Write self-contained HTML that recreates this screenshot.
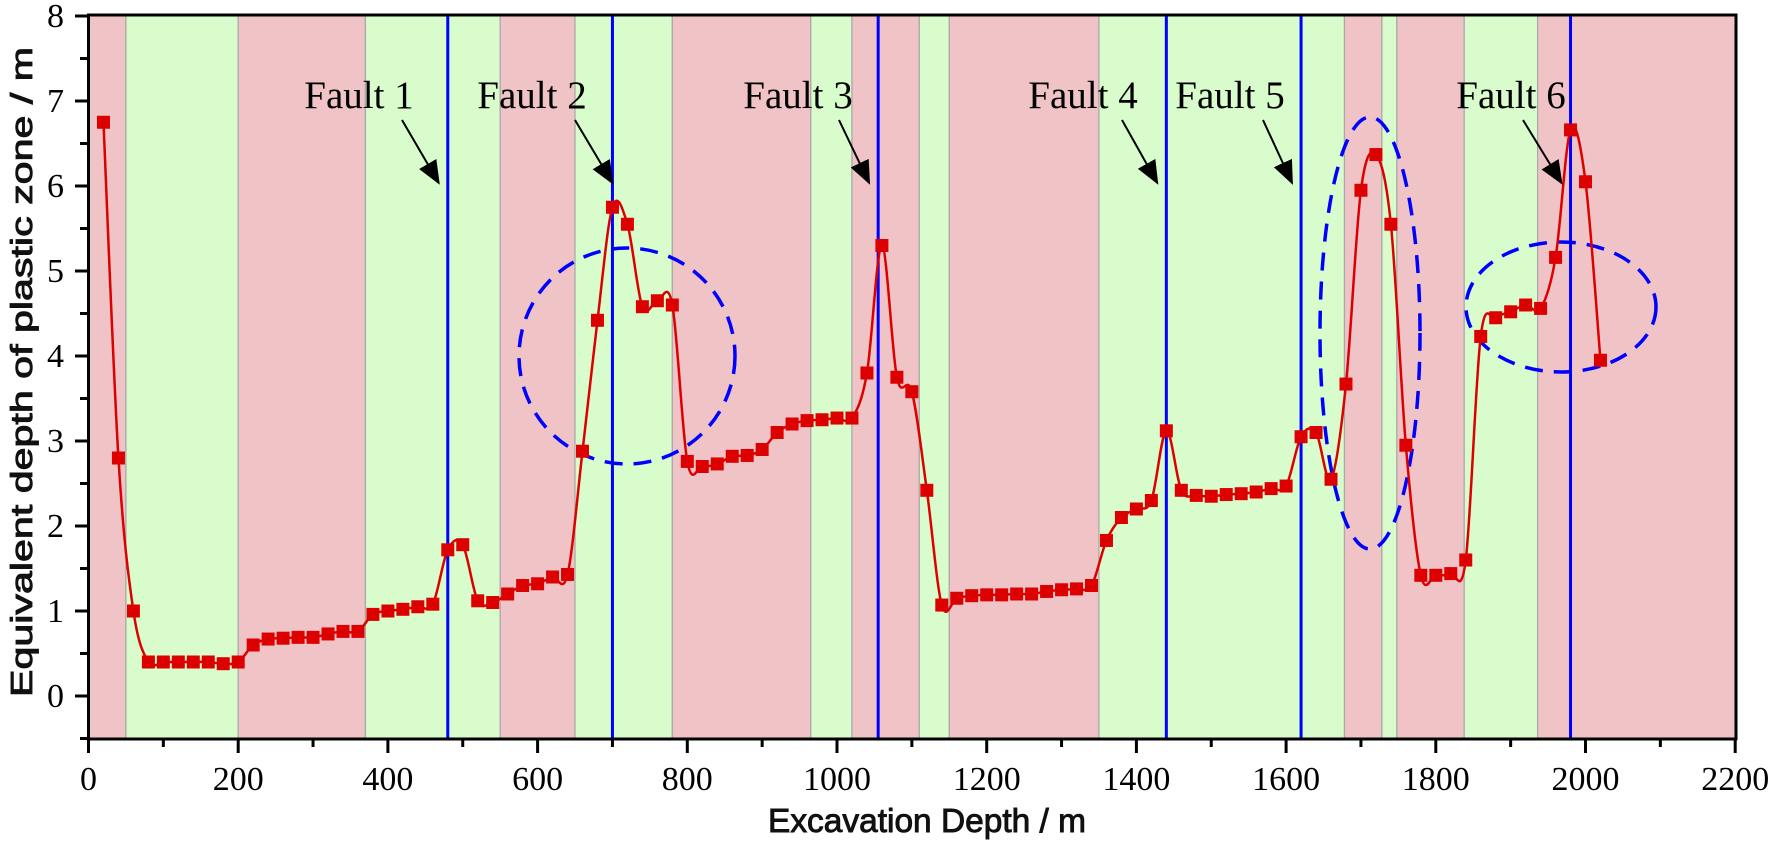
<!DOCTYPE html>
<html><head><meta charset="utf-8">
<style>html,body{margin:0;padding:0;background:#fff;}svg{display:block;}</style>
</head><body>
<svg id="c" width="1772" height="844" xmlns="http://www.w3.org/2000/svg">
<defs>
<marker id="ah2" markerWidth="24" markerHeight="20" refX="22" refY="10" orient="auto" markerUnits="userSpaceOnUse"><path d="M0,0 L24,10 L0,20 z" fill="#000"/></marker></defs>
<g id="bands"></g><g id="faults"></g><g id="ell"></g><g id="series"></g><g id="ann"></g><g id="axes"></g>
</svg>
<script>
(function(){
const NS="http://www.w3.org/2000/svg";
const X=m=>88.5+0.7485*m, Y=v=>696-85*v;
function el(p,t,a,txt){const e=document.createElementNS(NS,t);for(const k in a)e.setAttribute(k,a[k]);if(txt!==undefined)e.textContent=txt;document.getElementById(p).appendChild(e);return e;}
const TOPY=15,BOTY=738.5;
const bands=[[0,50,'r'],[50,200,'g'],[200,370,'r'],[370,550,'g'],[550,650,'r'],[650,780,'g'],[780,965,'r'],[965,1020,'g'],[1020,1110,'r'],[1110,1150,'g'],[1150,1350,'r'],[1350,1678,'g'],[1678,1728,'r'],[1728,1748,'g'],[1748,1838,'r'],[1838,1936,'g'],[1936,2200,'r']];
bands.forEach(b=>{el('bands','rect',{x:X(b[0]),y:TOPY,width:X(b[1])-X(b[0]),height:BOTY-TOPY,fill:b[2]=='r'?'#f0c4c6':'#d8fccc',stroke:'#a8a8a8','stroke-width':1.2});});
[480,700,1055,1440,1620,1980].forEach(f=>el('faults','line',{x1:X(f),x2:X(f),y1:TOPY,y2:BOTY,stroke:'#0000ff','stroke-width':3}));
const d=[6.75,2.8,1.0,0.4,0.4,0.4,0.4,0.4,0.38,0.4,0.6,0.67,0.68,0.69,0.69,0.73,0.76,0.76,0.96,1.0,1.02,1.05,1.08,1.72,1.78,1.12,1.1,1.2,1.3,1.32,1.4,1.43,2.88,4.42,5.75,5.55,4.58,4.65,4.6,2.76,2.7,2.73,2.82,2.83,2.9,3.1,3.2,3.24,3.25,3.27,3.27,3.8,5.3,3.75,3.58,2.42,1.07,1.15,1.18,1.19,1.19,1.2,1.2,1.23,1.25,1.26,1.3,1.83,2.1,2.2,2.3,3.12,2.42,2.36,2.35,2.37,2.38,2.4,2.44,2.47,3.05,3.1,2.55,3.67,5.95,6.37,5.55,2.95,1.42,1.42,1.44,1.6,4.23,4.45,4.52,4.6,4.56,5.16,6.66,6.05,3.95];
const P=d.map((v,i)=>[X(20+20*i),Y(v)]);
let s=`M${P[0][0]},${P[0][1]}`;
for(let i=0;i<P.length-1;i++){const p0=P[Math.max(0,i-1)],p1=P[i],p2=P[i+1],p3=P[Math.min(P.length-1,i+2)];
const c1=[p1[0]+(p2[0]-p0[0])/6,p1[1]+(p2[1]-p0[1])/6],c2=[p2[0]-(p3[0]-p1[0])/6,p2[1]-(p3[1]-p1[1])/6];
s+=` C${c1[0]},${c1[1]} ${c2[0]},${c2[1]} ${p2[0]},${p2[1]}`;}
el('series','path',{d:s,fill:'none',stroke:'#dd0000','stroke-width':2.5});
P.forEach(p=>el('series','rect',{x:p[0]-6.5,y:p[1]-6.5,width:13,height:13,fill:'#dd0000'}));
[[627,356,108,108],[1370,333,50,216],[1561,307,95,65]].forEach(e=>el('ell','ellipse',{cx:e[0],cy:e[1],rx:e[2],ry:e[3],fill:'none',stroke:'#0000ff','stroke-width':3.5,'stroke-dasharray':'18 11'}));
const fl=[[1,359,402,480,-9],[2,532,575,700,0],[3,798,839,1055,-9],[4,1083,1122,1440,-9],[5,1230,1263,1620,-9],[6,1511,1523,1980,-9]];
fl.forEach(f=>{el('ann','text',{x:f[1],y:108,'font-family':'Liberation Serif, serif','font-size':39,'text-anchor':'middle',fill:'#000'},'Fault '+f[0]);
el('ann','line',{x1:f[2],y1:120,x2:X(f[3])+f[4],y2:183,stroke:'#000','stroke-width':2,'marker-end':'url(#ah2)'});});
el('axes','line',{x1:88.5,y1:15,x2:1736,y2:15,stroke:'#000','stroke-width':3});
el('axes','line',{x1:88.5,y1:13.5,x2:88.5,y2:740,stroke:'#000','stroke-width':3});
el('axes','line',{x1:87,y1:739,x2:1737,y2:739,stroke:'#000','stroke-width':3});
el('axes','line',{x1:1736,y1:13.5,x2:1736,y2:740,stroke:'#000','stroke-width':3});
for(let m=0;m<=2200;m+=100){const maj=m%200==0;el('axes','line',{x1:X(m),x2:X(m),y1:739,y2:maj?753:747,stroke:'#000','stroke-width':3});
if(maj)el('axes','text',{x:X(m),y:790,'font-family':'Liberation Serif, serif','font-size':34,'text-anchor':'middle'},String(m));}
for(let k=-1;k<=16;k++){const v=k/2;const maj=k%2==0;el('axes','line',{x1:maj?75:80,x2:88.5,y1:Y(v),y2:Y(v),stroke:'#000','stroke-width':3});
if(maj)el('axes','text',{x:64,y:Y(v)+11,'font-family':'Liberation Serif, serif','font-size':34,'text-anchor':'end'},String(v));}
el('axes','text',{x:927,y:832,'font-family':'Liberation Sans, sans-serif','font-size':33,'text-anchor':'middle',textLength:318,lengthAdjust:'spacingAndGlyphs',fill:'#111',stroke:'#111','stroke-width':0.9},'Excavation Depth / m');
el('axes','text',{x:0,y:0,transform:'translate(32,372) rotate(-90)','font-family':'Liberation Sans, sans-serif','font-size':31,'text-anchor':'middle',textLength:650,lengthAdjust:'spacingAndGlyphs',fill:'#111',stroke:'#111','stroke-width':0.9},'Equivalent depth of plastic zone / m');
})();
</script>
</body></html>
